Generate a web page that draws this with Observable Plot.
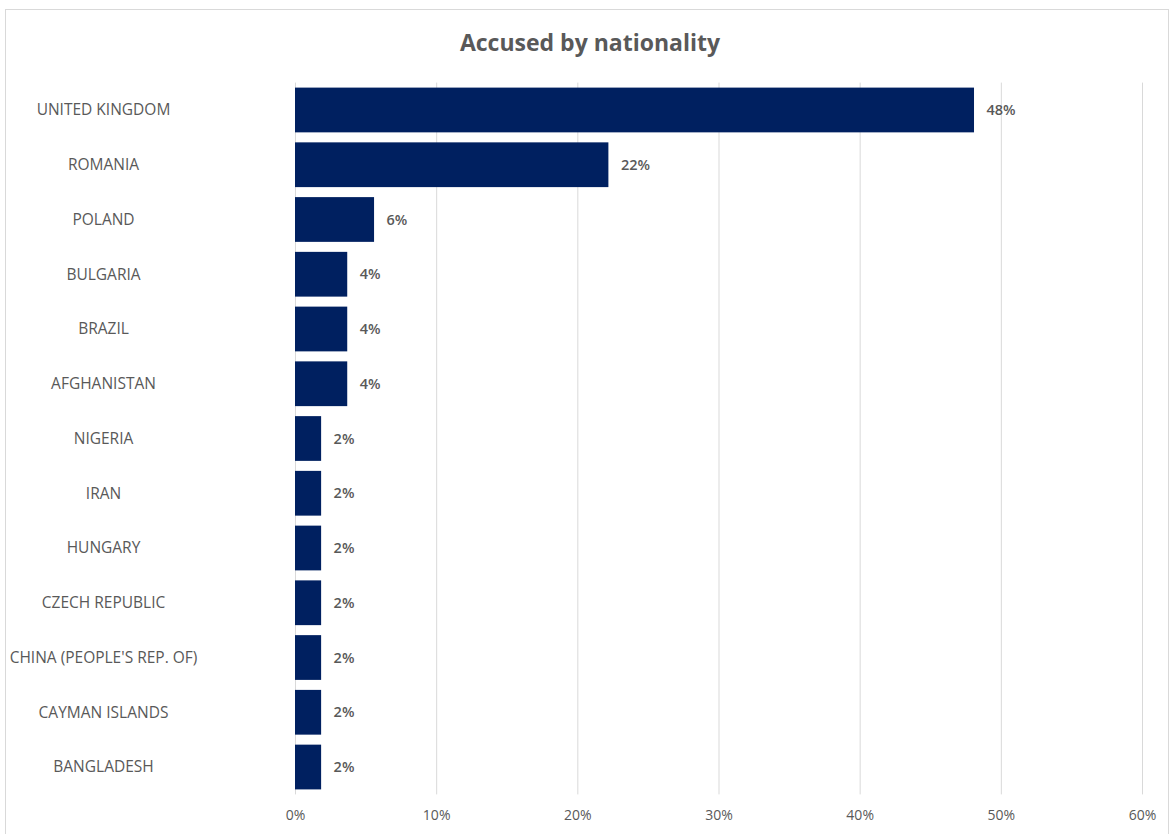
<!DOCTYPE html>
<html>
<head>
<meta charset="utf-8">
<script src="https://cdn.jsdelivr.net/npm/d3@7"></script>
<script src="https://cdn.jsdelivr.net/npm/@observablehq/plot@0.6"></script>
<style>
  html, body { margin: 0; padding: 0; background: #fff; }
  #frame { position: absolute; left: 5px; top: 9px; width: 1164px; height: 830px; border: 1px solid #d9d9d9; box-sizing: border-box; }
  #title { position: absolute; left: 0; top: 26px; width: 1180px; text-align: center; font-family: "Open Sans", sans-serif; font-weight: 700; font-size: 23px; color: #595959; line-height: 32px; }
  #chart { position: absolute; left: 0; top: 60px; line-height: 0; }
  #chart svg { display: block; }
</style>
</head>
<body>
<div id="frame"></div>
<div id="title">Accused by nationality</div>
<div id="chart"></div>
<script>
const countries = ["UNITED KINGDOM", "ROMANIA", "POLAND", "BULGARIA", "BRAZIL", "AFGHANISTAN", "NIGERIA", "IRAN", "HUNGARY", "CZECH REPUBLIC", "CHINA (PEOPLE'S REP. OF)", "CAYMAN ISLANDS", "BANGLADESH"];
const shares = [48.1, 22.2, 5.6, 3.7, 3.7, 3.7, 1.85, 1.85, 1.85, 1.85, 1.85, 1.85, 1.85];
const xTicks = [0, 10, 20, 30, 40, 50, 60];

const data = countries.map((c, i) => ({country: c, value: shares[i]}));
const fontFamily = "'Open Sans', sans-serif";

const plot = Plot.plot({
  width: 1174,
  height: 774,
  marginLeft: 295,
  marginRight: 32,
  marginTop: 22.6,
  marginBottom: 39.6,
  style: {fontFamily, background: "transparent"},
  x: {domain: [0, 60], ticks: xTicks},
  y: {domain: countries, padding: 0, round: false, label: null},
  marks: [
    Plot.gridX(xTicks, {stroke: "#d9d9d9", strokeOpacity: 1}),
    Plot.barX(data, {x: "value", y: "country", fill: "#002060", insetTop: 5, insetBottom: 5}),
    Plot.text(data, {x: "value", y: "country", text: d => Math.round(d.value) + "%", textAnchor: "start", dx: 12, fill: "#595959", fontSize: 14.5, fontWeight: 600}),
    Plot.axisY({tickSize: 0, textAnchor: "middle", dx: -183, fontSize: 15.5, fill: "#595959", label: null}),
    Plot.axisX({ticks: xTicks, tickSize: 0, tickPadding: 15, tickFormat: d => d + "%", fontSize: 14, fill: "#595959", label: null})
  ]
});
document.getElementById("chart").appendChild(plot);
</script>
</body>
</html>
